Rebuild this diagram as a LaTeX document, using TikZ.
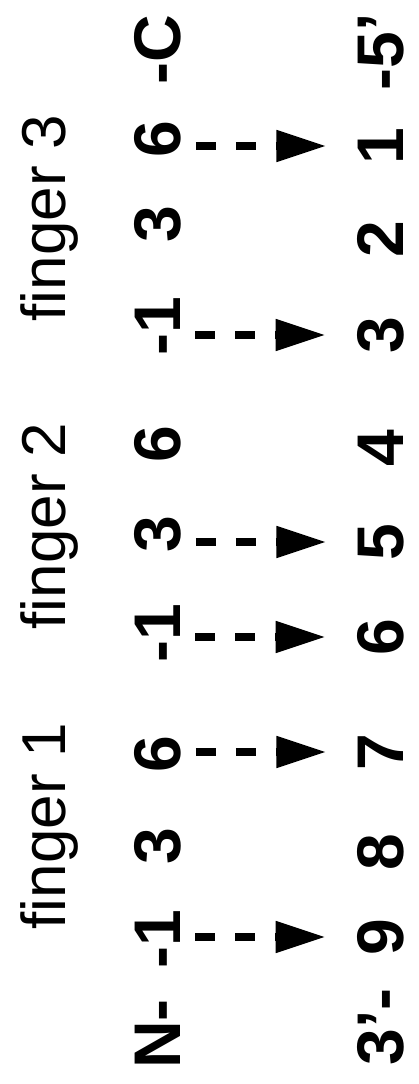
\documentclass[tikz,border=0pt]{standalone}
\usepackage{fontspec}
\setmainfont{Liberation Sans}
\usetikzlibrary{arrows.meta}
\tikzset{residue/.style = {font = \fontsize{66}{66}\selectfont\bfseries, rotate = 90, anchor = base, inner sep = 0pt}}
\tikzset{fingername/.style = {font = \fontsize{62}{62}\selectfont, rotate = 90, anchor = base, inner sep = 0pt}}
\tikzset{contact/.style = {line width = 8pt, dash pattern = on 20pt off 20pt, -{Triangle[length = 50pt, width = 30pt]}, shorten < = 15pt, shorten > = 31pt}}

\begin{document}
\begin{tikzpicture}[x = 1pt, y = 1pt]
			\useasboundingbox (0, 0) rectangle (419, 1084);

			\node[fingername] (f1) at (65, 258) {finger 1};
			\node[fingername] (f2) at (65, 558) {finger 2};
			\node[fingername] (f3) at (65, 866) {finger 3};

			\node[residue] (nterm) at (180, 50) {N-};
			\node[residue] (a1) at (180, 145) {-1};
			\node[residue] (a2) at (180, 238) {3};
			\node[residue] (a3) at (180, 330) {6};
			\node[residue] (a4) at (180, 451) {-1};
			\node[residue] (a5) at (180, 550) {3};
			\node[residue] (a6) at (180, 640) {6};
			\node[residue] (a7) at (180, 758) {-1};
			\node[residue] (a8) at (180, 860) {3};
			\node[residue] (a9) at (180, 945) {6};
			\node[residue] (cterm) at (180, 1034) {-C};

			\node[residue] (end3) at (403, 57) {3’-};
			\node[residue] (b1) at (403, 147) {9};
			\node[residue] (b2) at (403, 232) {8};
			\node[residue] (b3) at (403, 332) {7};
			\node[residue] (b4) at (403, 447) {6};
			\node[residue] (b5) at (403, 542) {5};
			\node[residue] (b6) at (403, 636) {4};
			\node[residue] (b7) at (403, 749) {3};
			\node[residue] (b8) at (403, 845) {2};
			\node[residue] (b9) at (403, 938) {1};
			\node[residue] (end5) at (403, 1032) {-5’};

			\draw[contact] (a1.south |- b1) -- (b1.north);
			\draw[contact] (a3.south |- b3) -- (b3.north);
			\draw[contact] (a4.south |- b4) -- (b4.north);
			\draw[contact] (a5.south |- b5) -- (b5.north);
			\draw[contact] (a7.south |- b7) -- (b7.north);
			\draw[contact] (a9.south |- b9) -- (b9.north);
		\end{tikzpicture}
\end{document}
